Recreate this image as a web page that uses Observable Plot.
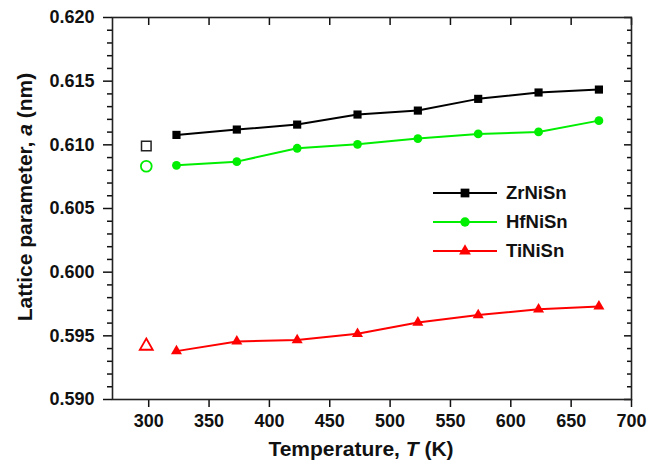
<!DOCTYPE html>
<html>
<head>
<meta charset="utf-8">
<script src="https://cdn.jsdelivr.net/npm/d3@7"></script>
<script src="https://cdn.jsdelivr.net/npm/@observablehq/plot@0.6"></script>
<style>
  html, body { margin: 0; padding: 0; background: #fff; }
  #chart { width: 661px; height: 465px; }
</style>
</head>
<body>
<div id="chart"></div>
<script>
// ---- data ----
const temps = [323, 373, 423, 473, 523, 573, 623, 673];
const zrNiSn = [0.61078, 0.61120, 0.61159, 0.61238, 0.61269, 0.61361, 0.61411, 0.61434];
const hfNiSn = [0.60839, 0.60868, 0.60973, 0.61004, 0.61049, 0.61086, 0.61101, 0.61190];
const tiNiSn = [0.59380, 0.59456, 0.59467, 0.59516, 0.59605, 0.59663, 0.59708, 0.59731];
const roomT = [298];
const zrRoom = [0.60991];
const hfRoom = [0.60832];
const tiRoom = [0.59420];
const seriesNames = ["ZrNiSn", "HfNiSn", "TiNiSn"];
const seriesColors = ["#000000", "#00ee00", "#ff0000"];
const xTicks = [300, 350, 400, 450, 500, 550, 600, 650, 700];
const yMajor = [0.590, 0.595, 0.600, 0.605, 0.610, 0.615, 0.620];
const yMinor = d3.range(0, 31).map(i => +(0.590 + i * 0.001).toFixed(3)).filter(v => !yMajor.some(m => Math.abs(m - v) < 1e-9));

const rows = (vals) => temps.map((t, i) => ({T: t, a: vals[i]}));
const roomRows = (vals) => roomT.map((t, i) => ({T: t, a: vals[i]}));

const font = "'Liberation Sans', Arial, Helvetica, sans-serif";
const noText = () => "";

const plot = Plot.plot({
  width: 661,
  height: 465,
  marginLeft: 112,
  marginRight: 30,
  marginTop: 17,
  marginBottom: 66,
  style: {fontFamily: font, fontSize: "18px", fontWeight: "bold", background: "#fff", color: "#111"},
  x: {domain: [270, 700], label: null},
  y: {domain: [0.590, 0.620], label: null},
  marks: [
    Plot.axisX({ticks: xTicks, tickSize: 8, tickPadding: 7, tickFormat: d3.format("d"), label: null, strokeWidth: 1.5}),
    Plot.axisX({anchor: "top", ticks: xTicks, tickSize: -7, tickFormat: noText, label: null, strokeWidth: 1.5}),
    Plot.axisY({ticks: yMajor, tickSize: 9, tickPadding: 9, tickFormat: d3.format(".3f"), label: null, strokeWidth: 1.5}),
    Plot.axisY({ticks: yMinor, tickSize: 5, tickFormat: noText, label: null, strokeWidth: 1.5}),
    Plot.axisY({anchor: "right", ticks: yMajor, tickSize: -8, tickFormat: noText, label: null, strokeWidth: 1.5}),
    Plot.axisY({anchor: "right", ticks: yMinor, tickSize: -5, tickFormat: noText, label: null, strokeWidth: 1.5}),
    Plot.frame({stroke: "#222", strokeWidth: 1.6}),

    Plot.line(rows(zrNiSn), {x: "T", y: "a", stroke: seriesColors[0], strokeWidth: 2}),
    Plot.line(rows(hfNiSn), {x: "T", y: "a", stroke: seriesColors[1], strokeWidth: 2}),
    Plot.line(rows(tiNiSn), {x: "T", y: "a", stroke: seriesColors[2], strokeWidth: 2}),

    Plot.dot(rows(zrNiSn), {x: "T", y: "a", symbol: "square", fill: seriesColors[0], r: 4.6}),
    Plot.dot(rows(hfNiSn), {x: "T", y: "a", symbol: "circle", fill: seriesColors[1], r: 4.4}),
    Plot.dot(rows(tiNiSn), {x: "T", y: "a", symbol: "triangle", fill: seriesColors[2], r: 4.1}),

    Plot.dot(roomRows(zrRoom), {x: "T", y: "a", symbol: "square", stroke: "#222", fill: "none", strokeWidth: 1.5, r: 5.4}),
    Plot.dot(roomRows(hfRoom), {x: "T", y: "a", symbol: "circle", stroke: seriesColors[1], fill: "none", strokeWidth: 1.8, r: 5.4}),
    Plot.dot(roomRows(tiRoom), {x: "T", y: "a", symbol: "triangle", stroke: seriesColors[2], fill: "none", strokeWidth: 1.8, r: 4.8})
  ]
});

document.getElementById("chart").appendChild(plot);

// ---- axis titles with italic variables ----
const svg = d3.select(plot);
const xt = svg.append("text")
  .attr("x", 361).attr("y", 456)
  .attr("text-anchor", "middle")
  .style("font-family", font).style("font-size", "21px").style("font-weight", "bold").attr("fill", "#111");
xt.append("tspan").text("Temperature, ");
xt.append("tspan").style("font-style", "italic").text("T");
xt.append("tspan").text(" (K)");

const yt = svg.append("text")
  .attr("transform", "translate(32,197) rotate(-90)")
  .attr("text-anchor", "middle")
  .style("font-family", font).style("font-size", "21px").style("font-weight", "bold").attr("fill", "#111");
yt.append("tspan").text("Lattice parameter, ");
yt.append("tspan").style("font-style", "italic").text("a");
yt.append("tspan").text(" (nm)");

// ---- legend ----
const symbols = [d3.symbolSquare, d3.symbolCircle, d3.symbolTriangle];
const radii = [4.6, 4.4, 4.1];
const leg = svg.append("g").attr("transform", "translate(433,193)");
seriesNames.forEach((name, i) => {
  const g = leg.append("g").attr("transform", `translate(0,${i * 29})`);
  g.append("line").attr("x1", 0).attr("x2", 64).attr("y1", 0).attr("y2", 0)
    .attr("stroke", seriesColors[i]).attr("stroke-width", 2);
  g.append("path").attr("transform", "translate(32,0)")
    .attr("d", d3.symbol(symbols[i], Math.PI * radii[i] * radii[i] * 1.15)())
    .attr("fill", seriesColors[i]);
  g.append("text").attr("x", 73).attr("y", 0).attr("dy", "0.35em")
    .attr("text-anchor", "start")
    .style("font-family", font).style("font-size", "18.5px").style("font-weight", "bold")
    .attr("fill", "#111").text(name);
});
</script>
</body>
</html>
